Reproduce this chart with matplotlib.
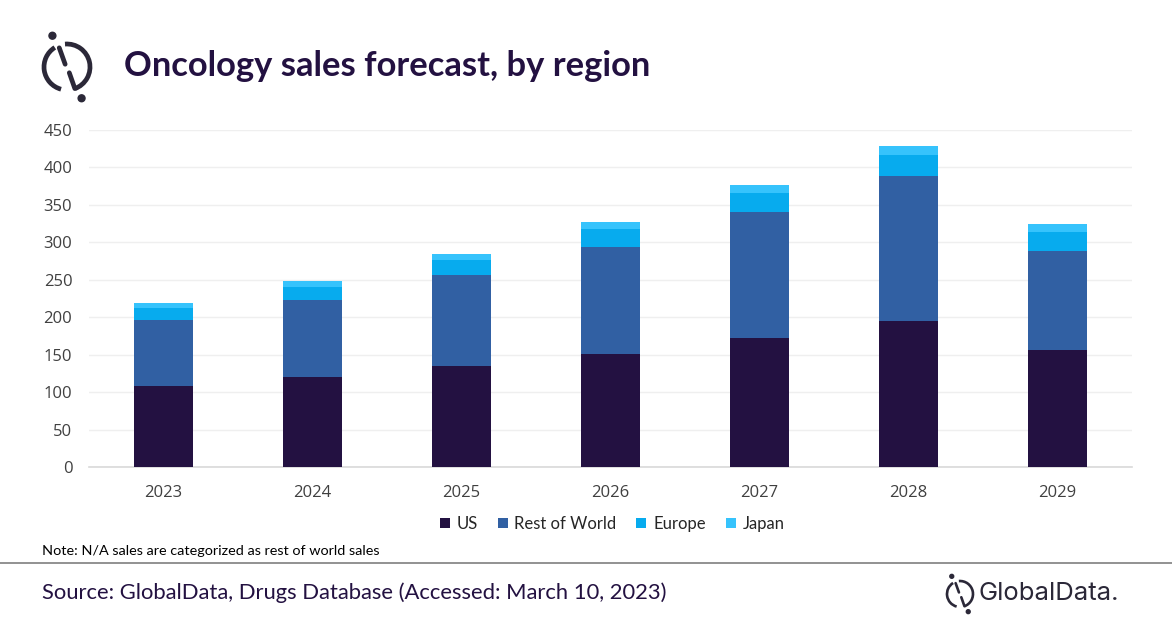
import numpy as np
import matplotlib.pyplot as plt
from matplotlib.patches import Arc, Circle
from matplotlib.lines import Line2D

years = ["2023", "2024", "2025", "2026", "2027", "2028", "2029"]
us = [108, 120, 135, 151, 172, 195, 156]
rest_of_world = [88, 103, 121, 143, 169, 193, 133]
europe = [16, 17, 21, 24, 25, 29, 25]
japan = [7, 8, 8, 9, 10, 11, 11]

series = [
    ("US", us, "#231141"),
    ("Rest of World", rest_of_world, "#3160A3"),
    ("Europe", europe, "#07ABEE"),
    ("Japan", japan, "#36C3FC"),
]

DARK = "#231141"
W, H = 1172, 628

fig = plt.figure(figsize=(W / 100, H / 100), dpi=100)
ax = fig.add_axes([89 / W, 1 - 467 / H, 1043 / W, 337 / H])

x = np.arange(len(years))
bottom = np.zeros(len(years))
for name, vals, color in series:
    ax.bar(x, vals, width=0.4, bottom=bottom, color=color, label=name, zorder=3)
    bottom += np.array(vals)

ax.set_xlim(-0.5, len(years) - 0.5)
ax.set_ylim(0, 450)
ax.set_yticks(range(0, 451, 50))
ax.set_xticks(x)
ax.set_xticklabels(years)
ax.grid(axis="y", color="#EFEFEF", linewidth=1, zorder=0)
for s in ["top", "right", "left"]:
    ax.spines[s].set_visible(False)
ax.spines["bottom"].set_color("#D9D9D9")
ax.spines["bottom"].set_linewidth(1.2)
ax.tick_params(length=0, labelsize=12, labelcolor="#404040")
ax.tick_params(axis="x", pad=13)
ax.tick_params(axis="y", pad=12)
for lab in ax.get_xticklabels() + ax.get_yticklabels():
    lab.set_fontfamily("Open Sans")

fig.legend(loc="center", bbox_to_anchor=(612 / W, 1 - 524 / H), ncol=4, frameon=False,
           prop={"family": "Lato", "size": 12}, handlelength=0.6, handleheight=0.6,
           handletextpad=0.4, columnspacing=1.2, labelcolor="#262626")

# title
fig.text(124 / W, 1 - 66 / H, "Oncology sales forecast, by region", fontsize=24.8,
         fontweight="bold", family="Lato", color=DARK, va="center", ha="left")

# note, separator, source
fig.text(42 / W, 1 - 551 / H, "Note: N/A sales are categorized as rest of world sales",
         fontsize=10.4, family="Lato", color="#000000", va="center")
fig.add_artist(Line2D([0, 1], [1 - 563 / H, 1 - 563 / H], transform=fig.transFigure,
                      color="#7F7F7F", linewidth=1.2))
fig.text(42 / W, 1 - 593 / H, "Source: GlobalData, Drugs Database (Accessed: March 10, 2023)",
         fontsize=15.8, family="Lato", color=DARK, va="center")


def draw_icon(cx, cy, r, color, lw):
    iax = fig.add_axes([(cx - 2 * r) / W, 1 - (cy + 2 * r) / H, 4 * r / W, 4 * r / H])
    iax.set_xlim(-2, 2)
    iax.set_ylim(-2, 2)
    iax.set_aspect("equal")
    iax.axis("off")
    iax.add_patch(Arc((0, 0), 2, 2, theta1=-70, theta2=95, color=color, lw=lw))
    iax.add_patch(Arc((0, 0), 2, 2, theta1=122, theta2=255, color=color, lw=lw))
    # inner slash with a break in the middle
    a1 = np.deg2rad(112)
    iax.plot([np.cos(a1) * 0.9, -0.08], [np.sin(a1) * 0.9, 0.12], color=color, lw=lw,
             solid_capstyle="round")
    a2 = np.deg2rad(-70)
    iax.plot([0.1, np.cos(a2)], [-0.25, np.sin(a2)], color=color, lw=lw,
             solid_capstyle="round")
    iax.add_patch(Circle((np.cos(np.deg2rad(115)) * 1.5, np.sin(np.deg2rad(115)) * 1.5),
                         0.15, color=color))
    iax.add_patch(Circle((np.cos(np.deg2rad(-65)) * 1.5, np.sin(np.deg2rad(-65)) * 1.5),
                         0.15, color=color))


draw_icon(67, 67, 23, "#2B2838", 3.4)
draw_icon(960, 594, 13, "#2B2838", 1.9)
fig.text(978 / W, 1 - 594 / H, "GlobalData.", fontsize=18.5, family="Inter",
         color="#2B2838", va="center", ha="left")

fig.savefig("out.png", dpi=100, facecolor="white")
